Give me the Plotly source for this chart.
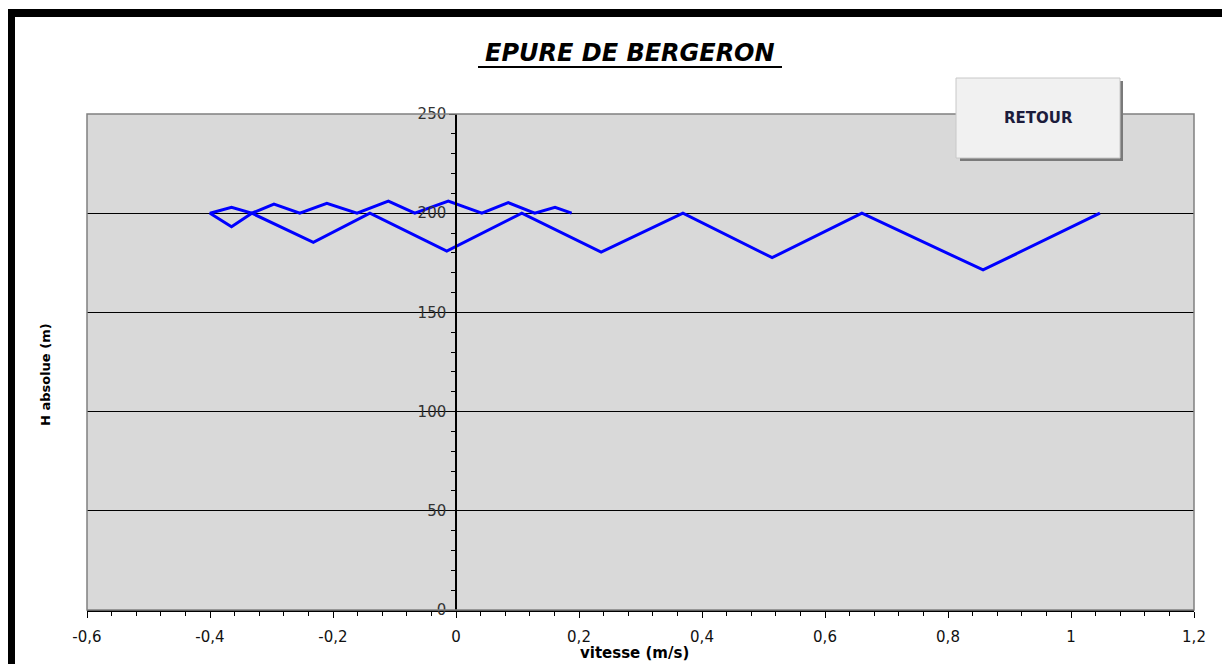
import plotly.graph_objects as go

# Bergeron diagram path (velocity m/s, absolute head m)
vitesse = [1.047, 0.857, 0.66, 0.514, 0.369, 0.236, 0.107, -0.015, -0.14, -0.232,
           -0.332, -0.365, -0.4, -0.365, -0.332, -0.296, -0.254, -0.210, -0.161,
           -0.110, -0.067, -0.0125, 0.042, 0.085, 0.128, 0.161, 0.188]
h_absolue = [200, 171.4, 200, 177.6, 200, 180.4, 200, 180.9, 200, 185.3,
             200, 193.2, 200, 203.0, 200, 204.6, 200, 205.0, 200,
             206.1, 200, 206.1, 200, 205.3, 200, 203.0, 200]

x_tickvals = [-0.6, -0.4, -0.2, 0, 0.2, 0.4, 0.6, 0.8, 1.0, 1.2]
x_ticktext = ["-0,6", "-0,4", "-0,2", "0", "0,2", "0,4", "0,6", "0,8", "1", "1,2"]
y_tickvals = [0, 50, 100, 150, 200, 250]
y_ticktext = ["0", "50", "100", "150", "200", "250"]

x_range = [-0.6, 1.2]
y_range = [0, 250]

OFF = 8  # page body margin
W, H = 1230 - OFF, 664 - OFF
L, R, T, B = 87 - OFF, 1194 - OFF, 114 - OFF, 610 - OFF  # plot area in figure pixels


def px(x):
    """page pixel x -> paper coordinate"""
    return (x - OFF - L) / (R - L)


def py(y):
    """page pixel y -> paper coordinate"""
    return (B - (y - OFF)) / (B - T)


font = "'DejaVu Sans', Arial, sans-serif"

fig = go.Figure()
fig.add_trace(go.Scatter(x=vitesse, y=h_absolue, mode="lines",
                         line=dict(color="#0000ff", width=3),
                         hoverinfo="skip", showlegend=False))

shapes = [
    # plot area border (gray)
    dict(type="rect", xref="paper", yref="paper", x0=0, x1=1, y0=0, y1=1,
         line=dict(color="#808080", width=1.5), layer="above"),
    # outer black frame
    dict(type="rect", xref="paper", yref="paper",
         x0=px(11), x1=px(1229), y0=py(13), y1=py(700),
         line=dict(color="black", width=8), layer="above"),
    # button shadow
    dict(type="rect", xref="paper", yref="paper",
         x0=px(960), x1=px(1123), y0=py(81), y1=py(161),
         fillcolor="#7a7a7a", line=dict(width=0), layer="above"),
    # button
    dict(type="rect", xref="paper", yref="paper",
         x0=px(956), x1=px(1120), y0=py(78), y1=py(158),
         fillcolor="#f1f1f1", line=dict(color="#c8c8c8", width=1), layer="above"),
    # title underline
    dict(type="line", xref="paper", yref="paper",
         x0=px(478), x1=px(782), y0=py(67), y1=py(67),
         line=dict(color="black", width=2), layer="above"),
]

annotations = [
    dict(text="<b><i>EPURE DE BERGERON</i></b>", xref="paper", yref="paper",
         x=px(630), y=py(53), xanchor="center", yanchor="middle", showarrow=False,
         font=dict(family=font, size=24, color="black")),
    dict(text="<b>RETOUR</b>", xref="paper", yref="paper",
         x=px(1038), y=py(118), xanchor="center", yanchor="middle", showarrow=False,
         font=dict(family=font, size=15, color="#1c1c3c")),
    dict(text="<b>vitesse (m/s)</b>", xref="paper", yref="paper",
         x=px(634), y=py(653), xanchor="center", yanchor="middle", showarrow=False,
         font=dict(family=font, size=15, color="black")),
    dict(text="<b>H absolue (m)</b>", xref="paper", yref="paper",
         x=px(46), y=py(375), textangle=-90, showarrow=False,
         xanchor="center", yanchor="middle",
         font=dict(family=font, size=13, color="black")),
]

fig.update_layout(
    width=W, height=H,
    margin=dict(l=L, r=W - R, t=T, b=H - B),
    paper_bgcolor="white",
    plot_bgcolor="#d9d9d9",
    shapes=shapes,
    annotations=annotations,
    font=dict(family=font, size=15, color="black"),
    xaxis=dict(
        range=x_range, tickmode="array", tickvals=x_tickvals, ticktext=x_ticktext,
        showgrid=False, zeroline=False,
        showline=True, linecolor="black", linewidth=1.5,
        ticks="outside", ticklen=6, tickcolor="black",
        minor=dict(tick0=-0.6, dtick=0.04, ticks="outside", ticklen=4, tickcolor="black"),
        tickfont=dict(family=font, size=15, color="#111111"),
        ticklabelstandoff=6,
    ),
    yaxis=dict(
        range=y_range, tickmode="array", tickvals=y_tickvals, ticktext=y_ticktext,
        showgrid=True, gridcolor="black", gridwidth=1,
        zeroline=False, anchor="free",
        position=(0 - x_range[0]) / (x_range[1] - x_range[0]),
        showline=True, linecolor="black", linewidth=1.5,
        ticks="outside", ticklen=6, tickcolor="black",
        minor=dict(tick0=0, dtick=10, ticks="outside", ticklen=4, tickcolor="black"),
        tickfont=dict(family=font, size=15, color="#333333"),
    ),
)

fig.write_html("out.html")
